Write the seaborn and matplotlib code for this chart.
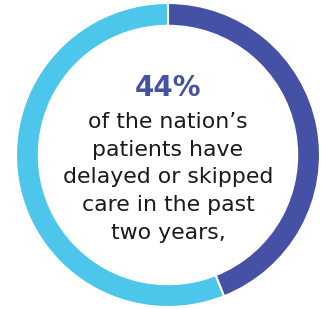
import matplotlib
matplotlib.use("Agg")
import matplotlib.pyplot as plt
import seaborn as sns

# Share of patients who delayed or skipped care
labels = ["Delayed or skipped", "Other"]
shares = [44, 56]
headline = "44%"
body_lines = ["of the nation’s", "patients have", "delayed or skipped",
              "care in the past", "two years,"]

sns.set_style("white")
colors = ["#4451A5", "#4CC6EA"]

fig = plt.figure(figsize=(3.21, 3.09), dpi=100)
ax = fig.add_axes([16 / 321, 2 / 309, 304 / 321, 304 / 309])

ax.pie(shares, colors=colors, startangle=90, counterclock=False,
       radius=1, wedgeprops=dict(width=0.15, edgecolor="white", linewidth=1.5))
ax.set_xlim(-1, 1)
ax.set_ylim(-1, 1)
ax.set_aspect("equal")
ax.axis("off")

ax.text(0, 0.44, headline, ha="center", va="center", fontsize=20,
        fontweight="heavy", color=colors[0], family="DejaVu Sans")
for i, line in enumerate(body_lines):
    ax.text(0, 0.217 - i * 0.182, line, ha="center", va="center",
            fontsize=15.8, color="#1a1a1a", family="DejaVu Sans")

fig.savefig("out.png", dpi=100)
